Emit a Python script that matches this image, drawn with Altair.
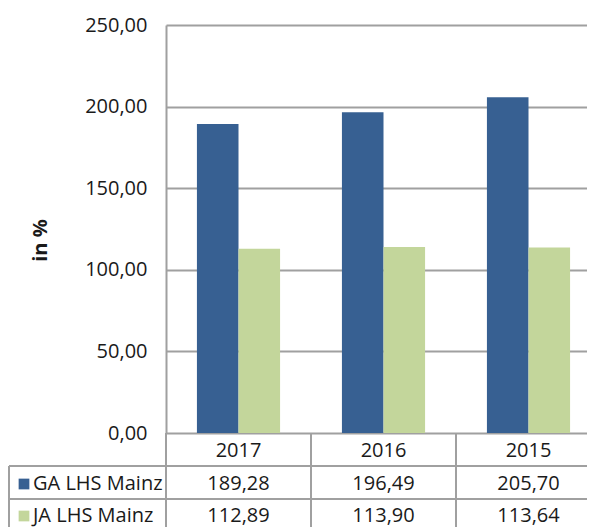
import altair as alt
import pandas as pd

years = ["2017", "2016", "2015"]
series = ["GA LHS Mainz", "JA LHS Mainz"]
ga_values = [189.28, 196.49, 205.70]
ja_values = [112.89, 113.90, 113.64]
y_ticks = [0, 50, 100, 150, 200, 250]

BLUE = "#376092"
GREEN = "#C3D69B"
GRID = "#a0a0a0"
FONT = "Open Sans"
TXT = "#1a1a1a"

rows = []
for s, vals in zip(series, [ga_values, ja_values]):
    for yr, v in zip(years, vals):
        rows.append({"year": yr, "series": s, "value": v})
df = pd.DataFrame(rows)
df_years = pd.DataFrame({"year": years})
df_series = pd.DataFrame({"series": series})

fmt = "replace(format(datum.value, '.2f'), '.', ',')"
xscale = alt.Scale(paddingInner=0, paddingOuter=0, range=[0, 435])
xenc = alt.X("year:N", sort=years, scale=xscale, axis=None)
cenc = alt.Color("series:N", scale=alt.Scale(domain=series, range=[BLUE, GREEN]), legend=None)

bars = alt.Chart(df).mark_bar().encode(
    x=xenc,
    xOffset=alt.XOffset("series:N", sort=series,
                        scale=alt.Scale(paddingInner=0, paddingOuter=0.744)),
    y=alt.Y("value:Q", scale=alt.Scale(domain=[0, 250]),
            axis=alt.Axis(values=y_ticks, labelExpr=fmt, ticks=False,
                          labelPadding=19, labelFontSize=20, labelFont=FONT,
                          labelColor=TXT, domain=True, domainColor=GRID,
                          domainWidth=2,
                          gridColor=GRID, gridWidth=2,
                          title="in %", titleFont=FONT, titleFontSize=20,
                          titleFontWeight="bold", titleColor=TXT,
                          titleAngle=-90, titleX=-126, titleY=215,
                          titleAlign="center", titleBaseline="middle")),
    color=cenc,
)

# table grid
vlines = alt.Chart(df_years).mark_rule(color=GRID, strokeWidth=2).encode(
    x=alt.X("year:N", sort=years, bandPosition=0),
    y=alt.value(408), y2=alt.value(530),
)
left_border = alt.Chart(df_years).mark_rule(color=GRID, strokeWidth=2).encode(
    x=alt.value(-157), y=alt.value(441), y2=alt.value(530),
)
hline1 = alt.Chart(df_years).mark_rule(color=GRID, strokeWidth=2).encode(
    x=alt.value(-157), x2=alt.value(440), y=alt.value(441),
)
hline2 = alt.Chart(df_years).mark_rule(color=GRID, strokeWidth=2).encode(
    x=alt.value(-157), x2=alt.value(440), y=alt.value(474),
)

year_text = alt.Chart(df_years).mark_text(font=FONT, fontSize=20, color=TXT, baseline="middle").encode(
    x=alt.X("year:N", sort=years), text="year:N", y=alt.value(426),
)

def value_row(s, ypix):
    return alt.Chart(df).transform_filter(alt.datum.series == s).transform_calculate(
        label="replace(format(datum.value, '.2f'), '.', ',')"
    ).mark_text(font=FONT, fontSize=20, color=TXT, baseline="middle").encode(
        x=alt.X("year:N", sort=years), text="label:N", y=alt.value(ypix),
    )

def label_row(s, ypix):
    base = alt.Chart(df_series).transform_filter(alt.datum.series == s)
    sq = base.mark_square(size=115, opacity=1).encode(
        x=alt.value(-142), y=alt.value(ypix), color=cenc,
    )
    tx = base.mark_text(font=FONT, fontSize=20, color=TXT, align="left", baseline="middle").encode(
        x=alt.value(-133), y=alt.value(ypix), text="series:N",
    )
    return sq + tx

chart = alt.layer(
    bars, vlines, left_border, hline1, hline2, year_text,
    value_row(series[0], 459), value_row(series[1], 491),
    label_row(series[0], 459), label_row(series[1], 491),
).properties(
    width=421, height=408,
    autosize=alt.AutoSizeParams(type="none"),
    padding={"left": 158, "top": 17, "right": 0, "bottom": 94},
).configure_view(stroke=None)

chart.save("out.html", embed_options={"renderer": "svg", "actions": False})
